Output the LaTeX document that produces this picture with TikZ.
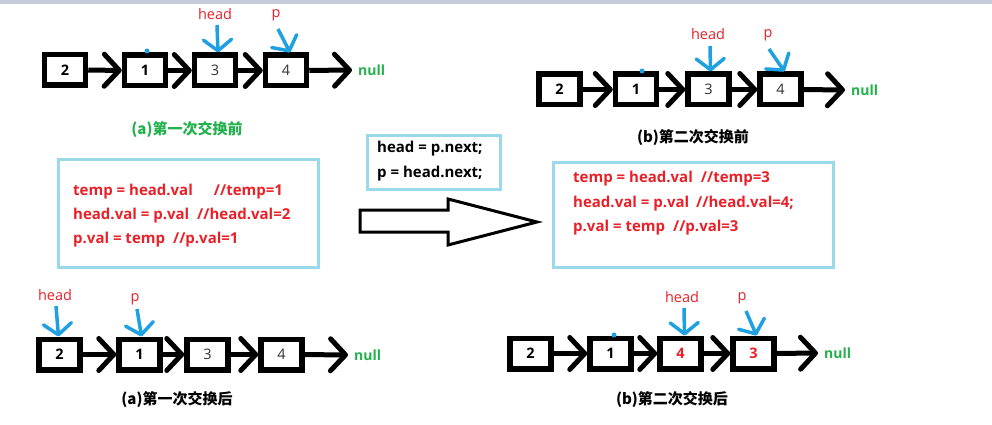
\documentclass[tikz,border=0pt]{standalone}
\usepackage{fontspec}
\setmainfont{Open Sans}
\newfontfamily\cjk{Noto Sans CJK SC}
\usetikzlibrary{arrows.meta,calc}
\definecolor{cred}{RGB}{232,32,40}
\definecolor{cgreen}{RGB}{34,177,76}
\definecolor{cblue}{RGB}{30,160,225}
\definecolor{cframe}{RGB}{153,217,234}
\definecolor{cnum}{RGB}{50,50,50}
\definecolor{cband}{RGB}{198,203,218}
\tikzset{
  listbox/.style={draw=black, line width=5.5pt, minimum width=41pt, minimum height=30.5pt, inner sep=0pt, font=\fontsize{14.5}{16}\selectfont\bfseries},
  thinnum/.style={font=\fontsize{14.5}{16}\selectfont, text=cnum},
  rednum/.style={text=cred},
  link/.style={line width=5pt, -{Straight Barb[length=15pt 0,width=32pt 0,line width=5pt,round]}},
  ptr/.style={draw=cblue, line width=3.5pt, -{Straight Barb[length=11pt 0,width=28pt 0,line width=3.5pt,round]}},
  lbl/.style={text=cred, font=\fontsize{14.5}{16}\selectfont, inner sep=0pt},
  nullnode/.style={text=cgreen, font=\fontsize{14}{16}\selectfont\bfseries, anchor=west, inner xsep=6pt, inner ysep=1pt},
  codeline/.style={font=\fontsize{15}{18}\selectfont\bfseries, anchor=base west, inner sep=0pt},
  frame/.style={draw=cframe, line width=3pt, inner sep=0pt},
  caption/.style={font=\cjk\fontsize{15}{18}\selectfont\bfseries}
}
\begin{document}
\begin{tikzpicture}[x=1pt,y=-1pt]
\useasboundingbox (0,0) rectangle (992,425);
\fill[cband] (0,0) rectangle (992,4);

% ---------- (a) before first swap ----------
\node[listbox] (a2) at (65,70) {2};
\node[listbox] (a1) at (145,70.5) {1};
\node[listbox,thinnum] (a3) at (215,70.5) {3};
\node[listbox,thinnum] (a4) at (286,70.5) {4};
\node[nullnode] (an) at (352,70) {null};
\draw[link] (a2) -- (a1);
\draw[link] (a1) -- (a3);
\draw[link] (a3) -- (a4);
\draw[link] (a4) -- (an);
\fill[cblue] (147,51) circle (2.5pt);
\node[lbl] (hA) at (215,14) {head};
\coordinate (hAs) at (217,25);
\draw[ptr] (hAs) -- ([xshift=3pt]a3.north);
\node[lbl] (pA) at (276,15) {p};
\coordinate (pAs) at (278,29);
\draw[ptr] (pAs) -- ([xshift=4pt]a4.north);
\node[caption,text=cgreen] (capA) at (187,130) {(a)第一次交换前};

% ---------- (b) before second swap ----------
\node[listbox] (b2) at (559.5,89.5) {2};
\node[listbox] (b1) at (636,89.5) {1};
\node[listbox,thinnum] (b3) at (708.5,89.5) {3};
\node[listbox,thinnum] (b4) at (780.5,89.5) {4};
\node[nullnode] (bn) at (845,90) {null};
\draw[link] (b2) -- (b1);
\draw[link] (b1) -- (b3);
\draw[link] (b3) -- (b4);
\draw[link] (b4) -- (bn);
\fill[cblue] (642,71) circle (2.5pt);
\node[lbl] (hB) at (708,34) {head};
\coordinate (hBs) at (710,46);
\draw[ptr] (hBs) -- ([xshift=2pt]b3.north);
\node[lbl] (pB) at (768,35) {p};
\coordinate (pBs) at (769,49);
\draw[ptr] (pBs) -- ([xshift=4pt]b4.north);
\node[caption] (capB) at (693,138) {(b)第二次交换前};

% ---------- code boxes and big arrow ----------
\node[frame, minimum width=260pt, minimum height=108pt] (boxL) at (188,213) {};
\node[codeline,text=cred] (l1) at (73,195) {temp = head.val\hspace{21pt}//temp=1};
\node[codeline,text=cred] (l2) at (73,219) {head.val = p.val\hspace{8pt}//head.val=2};
\node[codeline,text=cred] (l3) at (73,243) {p.val = temp\hspace{8pt}//p.val=1};

\node[frame, minimum width=133pt, minimum height=54pt] (boxT) at (433.5,162) {};
\node[codeline] (t1) at (377,152) {head = p.next;};
\node[codeline] (t2) at (377,177) {p = head.next;};

\draw[line width=3pt, line join=miter] (360,210) -- (448,210) -- (448,199) -- (537,222) -- (448,245) -- (448,232) -- (360,232) -- cycle;

\node[frame, minimum width=280pt, minimum height=105pt] (boxR) at (693,214.5) {};
\node[codeline,text=cred] (r1) at (573,182) {temp = head.val\hspace{8pt}//temp=3};
\node[codeline,text=cred] (r2) at (573,207) {head.val = p.val\hspace{7pt}//head.val=4;};
\node[codeline,text=cred] (r3) at (573,231) {p.val = temp\hspace{8pt}//p.val=3};

% ---------- (a) after first swap ----------
\node[listbox] (c2) at (59.5,354.5) {2};
\node[listbox] (c1) at (139.5,354.5) {1};
\node[listbox,thinnum] (c3) at (207.5,354.5) {3};
\node[listbox,thinnum] (c4) at (281.5,354.5) {4};
\node[nullnode] (cn) at (348,355) {null};
\draw[link] (c2) -- (c1);
\draw[link] (c1) -- (c3);
\draw[link] (c3) -- (c4);
\draw[link] (c4) -- (cn);
\node[lbl] (hC) at (55,295) {head};
\coordinate (hCs) at (56,306);
\draw[ptr] (hCs) -- ([xshift=-1pt]c2.north);
\node[lbl] (pC) at (135,299) {p};
\coordinate (pCs) at (137,309);
\draw[ptr] (pCs) -- ([xshift=2pt]c1.north);
\node[caption] (capC) at (177,400) {(a)第一次交换后};

% ---------- (b) after second swap ----------
\node[listbox] (d2) at (530.5,353.5) {2};
\node[listbox] (d1) at (610.5,353.5) {1};
\node[listbox,rednum] (d4) at (680.5,353.5) {4};
\node[listbox,rednum] (d3) at (753.5,353.5) {3};
\node[nullnode] (dn) at (818,353) {null};
\draw[link] (d2) -- (d1);
\draw[link] (d1) -- (d4);
\draw[link] (d4) -- (d3);
\draw[link] (d3) -- (dn);
\fill[cblue] (614,335) circle (2.5pt);
\node[lbl] (hD) at (682,297) {head};
\coordinate (hDs) at (684,308);
\draw[ptr] (hDs) -- ([xshift=4pt]d4.north);
\node[lbl] (pD) at (742,298) {p};
\coordinate (pDs) at (746,311);
\draw[ptr] (pDs) -- ([xshift=3pt]d3.north);
\node[caption] (capD) at (672,400) {(b)第二次交换后};
\end{tikzpicture}
\end{document}
